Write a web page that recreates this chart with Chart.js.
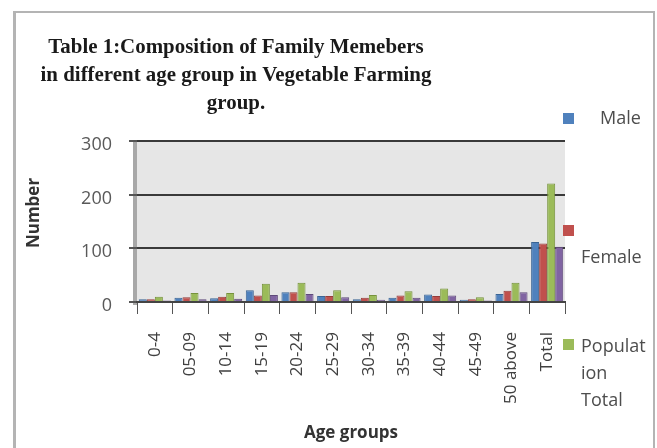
<!DOCTYPE html>
<html>
<head>
<meta charset="utf-8">
<script src="https://cdn.jsdelivr.net/npm/chart.js@4"></script>
<style>
  html, body { margin: 0; padding: 0; background: #fff; }
  #wrap { position: relative; width: 657px; height: 448px; overflow: hidden; }
  #frame { position: absolute; left: 13px; top: 11px; width: 637px; height: 460px;
           border: 2px solid #b4b4b4; border-left-width: 3px; }
  canvas { position: absolute; left: 0; top: 0; }
</style>
</head>
<body>
<div id="wrap">
  <div id="frame"></div>
  <canvas id="chart" width="657" height="448"></canvas>
</div>
<script>
// age groups and family member counts
const ageGroups = ['0-4', '05-09', '10-14', '15-19', '20-24', '25-29', '30-34', '35-39', '40-44', '45-49', '50 above', 'Total'];
const male = [5, 8, 7, 22, 18, 11, 5, 8, 14, 4, 15, 112];
const female = [5, 9, 10, 12, 18, 11, 8, 12, 11, 5, 21, 109];
const populationTotal = [10, 17, 17, 34, 36, 22, 13, 20, 25, 9, 36, 221];
const fourth = [3, 5, 6, 13, 15, 9, 4, 8, 12, 3, 18, 103];
const yTicks = [0, 100, 200, 300];

const titleLines = ['Table 1:Composition of Family Memebers',
                    'in different age group in Vegetable Farming',
                    'group.'];

const sansFont = '"Open Sans", "DejaVu Sans", sans-serif';

// background, wall, title, axis titles and the side legend
const decor = {
    id: 'decor',
    beforeDraw(chart) {
        const { ctx, chartArea: a } = chart;
        ctx.save();
        ctx.fillStyle = '#e6e6e6';
        ctx.fillRect(a.left, a.top, a.right - a.left, a.bottom - a.top);
        ctx.fillStyle = '#a8a8a8';
        ctx.fillRect(a.left - 4, a.top, 4, a.bottom - a.top + 3);
        ctx.restore();
    },
    afterDraw(chart) {
        const { ctx, chartArea: a } = chart;
        ctx.save();
        ctx.fillStyle = '#1a1a1a';
        ctx.textAlign = 'center';
        ctx.textBaseline = 'middle';
        ctx.font = 'bold 22px "Liberation Serif", serif';
        titleLines.forEach((t, i) => {
            ctx.save();
            ctx.translate(236, 47 + i * 28);
            ctx.scale(0.95, 1);
            ctx.fillText(t, 0, 0);
            ctx.restore();
        });

        ctx.fillStyle = '#333';
        ctx.font = 'bold 17px ' + sansFont;
        ctx.fillText('Age groups', (a.left + a.right) / 2, 433);
        ctx.save();
        ctx.translate(34, 213);
        ctx.rotate(-Math.PI / 2);
        ctx.fillText('Number', 0, 0);
        ctx.restore();

        // legend entries down the right side
        const items = [
            { color: '#4f81bd', box: 119, lines: ['Male'], tx: 600, ty: 119 },
            { color: '#c0504d', box: 231, lines: ['Female'], tx: 581, ty: 258 },
            { color: '#9bbb59', box: 345, lines: ['Populat', 'ion', 'Total'], tx: 581, ty: 347 }
        ];
        ctx.textAlign = 'left';
        ctx.font = '18px ' + sansFont;
        items.forEach(it => {
            ctx.fillStyle = it.color;
            ctx.fillRect(563, it.box - 6, 11, 11);
            ctx.fillStyle = '#4d4d4d';
            it.lines.forEach((l, i) => ctx.fillText(l, it.tx, it.ty + i * 27));
        });
        ctx.restore();
    }
};

const ctx = document.getElementById('chart').getContext('2d');
const chart = new Chart(ctx, {
    type: 'bar',
    data: {
        labels: ageGroups,
        datasets: [
            { label: 'Male', data: male, backgroundColor: '#4f81bd', borderColor: '#3a6494' },
            { label: 'Female', data: female, backgroundColor: '#c0504d', borderColor: '#963c3a' },
            { label: 'Population Total', data: populationTotal, backgroundColor: '#9bbb59', borderColor: '#76923c' },
            { label: '', data: fourth, backgroundColor: '#8064a2', borderColor: '#5f4a7a' }
        ]
    },
    options: {
        responsive: false,
        animation: false,
        layout: { padding: { left: 0, top: 141, right: 92, bottom: 36 } },
        datasets: {
            bar: { categoryPercentage: 0.9, barPercentage: 1, borderWidth: 1 }
        },
        scales: {
            x: {
                afterFit: s => { s.height = 110; },
                grid: { display: true, drawOnChartArea: false, offset: true, color: '#555', tickLength: 12 },
                border: { color: '#444', width: 2 },
                ticks: { minRotation: 90, maxRotation: 90, color: '#404040', font: { family: sansFont, size: 17 }, padding: 18 }
            },
            y: {
                min: 0, max: 300,
                afterFit: s => { s.width = 137; },
                afterBuildTicks: s => { s.ticks = yTicks.map(v => ({ value: v })); },
                grid: { color: '#3a3a3a', lineWidth: 2, tickLength: 8, tickColor: '#555' },
                border: { display: false },
                ticks: { color: '#595959', font: { family: sansFont, size: 18 }, padding: 17, labelOffset: 4 }
            }
        },
        plugins: {
            legend: { display: false },
            tooltip: { enabled: false }
        }
    },
    plugins: [decor]
});
</script>
</body>
</html>
